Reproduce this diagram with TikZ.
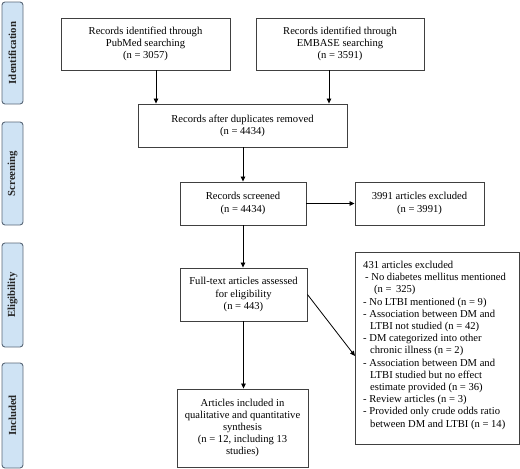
\documentclass[tikz,border=0pt]{standalone}
\usepackage{fontspec}
\setmainfont{Liberation Serif}
\usetikzlibrary{arrows.meta}
\definecolor{boxc}{HTML}{404040}
\definecolor{sidec}{HTML}{5A6878}
\definecolor{sidef}{HTML}{CFE3F4}
\begin{document}
\begin{tikzpicture}[x=1pt,y=-1pt,
  box/.style={draw=boxc, line width=0.9pt, inner sep=0pt, align=center,
    font=\fontsize{10.6}{12.2}\selectfont},
  side/.style={draw=sidec, fill=sidef, rounded corners=3pt, line width=0.9pt,
    inner sep=0pt, rotate=90, minimum height=21pt,
    font=\fontsize{10.8}{12}\selectfont\bfseries, text=black!85},
  arr/.style={-{Triangle[length=5pt,width=4.5pt]}, line width=0.8pt}]
\useasboundingbox (0,0) rectangle (520,469);
% phase labels
\node[side, minimum width=102pt] (sid) at (12.5,53) {Identification};
\node[side, minimum width=103pt] (ssc) at (12.5,173.5) {Screening};
\node[side, minimum width=104pt] (sel) at (12.5,295) {Eligibility};
\node[side, minimum width=105pt] (sin) at (12.5,415.5) {Included};
% boxes
\node[box, minimum width=169pt, minimum height=52pt] (pub) at (145.5,44)
  {Records identified through\\PubMed searching\\(n = 3057)};
\node[box, minimum width=168pt, minimum height=52pt] (emb) at (340,44)
  {Records identified through\\EMBASE searching\\(n = 3591)};
\node[box, minimum width=209pt, minimum height=43pt] (dup) at (242.5,125.5)
  {Records after duplicates removed\\(n = 4434)};
\node[box, minimum width=126pt, minimum height=43pt] (scr) at (243,203.5)
  {Records screened\\(n = 4434)};
\node[box, minimum width=129pt, minimum height=43pt] (ex1) at (419.5,203.5)
  {3991 articles excluded\\(n = 3991)};
\node[box, minimum width=127pt, minimum height=53pt] (ful) at (243.5,294.5)
  {Full-text articles assessed\\for eligibility\\(n = 443)};
\node[box, minimum width=131pt, minimum height=78pt] (inc) at (242.5,428)
  {Articles included in\\qualitative and quantitative\\synthesis\\(n = 12, including 13\\studies)};
\node[box, minimum width=164pt, minimum height=192pt] (ex2) at (437,348) {};
\node[anchor=north west, inner sep=0pt, align=left,
  font=\fontsize{10.6}{12.2}\selectfont] (ex2t) at (363,261)
  {431 articles excluded\\
   \hspace*{2pt}- No diabetes mellitus mentioned\\
   \hspace*{11pt}(n =\, 325)\\
   - No LTBI mentioned (n = 9)\\
   - Association between DM and\\
   \hspace*{7pt}LTBI not studied (n = 42)\\
   - DM categorized into other\\
   \hspace*{7pt}chronic illness (n = 2)\\
   - Association between DM and\\
   \hspace*{7pt}LTBI studied but no effect\\
   \hspace*{7pt}estimate provided (n = 36)\\
   - Review articles (n = 3)\\
   - Provided only crude odds ratio\\
   \hspace*{7pt}between DM and LTBI (n = 14)};
% connectors
\coordinate (xa) at (156,0);
\coordinate (xb) at (329,0);
\coordinate (ex2in) at (355,356);
\draw[arr] (pub.south -| xa) -- (dup.north -| xa);
\draw[arr] (emb.south -| xb) -- (dup.north -| xb);
\draw[arr] (dup.south -| scr.north) -- (scr.north);
\draw[arr] (scr.east) -- (ex1.west);
\draw[arr] (scr.south) -- (scr.south |- ful.north);
\draw[arr] (ful.south) -- (ful.south |- inc.north);
\draw[arr] (ful.east) -- (ex2in);
\end{tikzpicture}
\end{document}
